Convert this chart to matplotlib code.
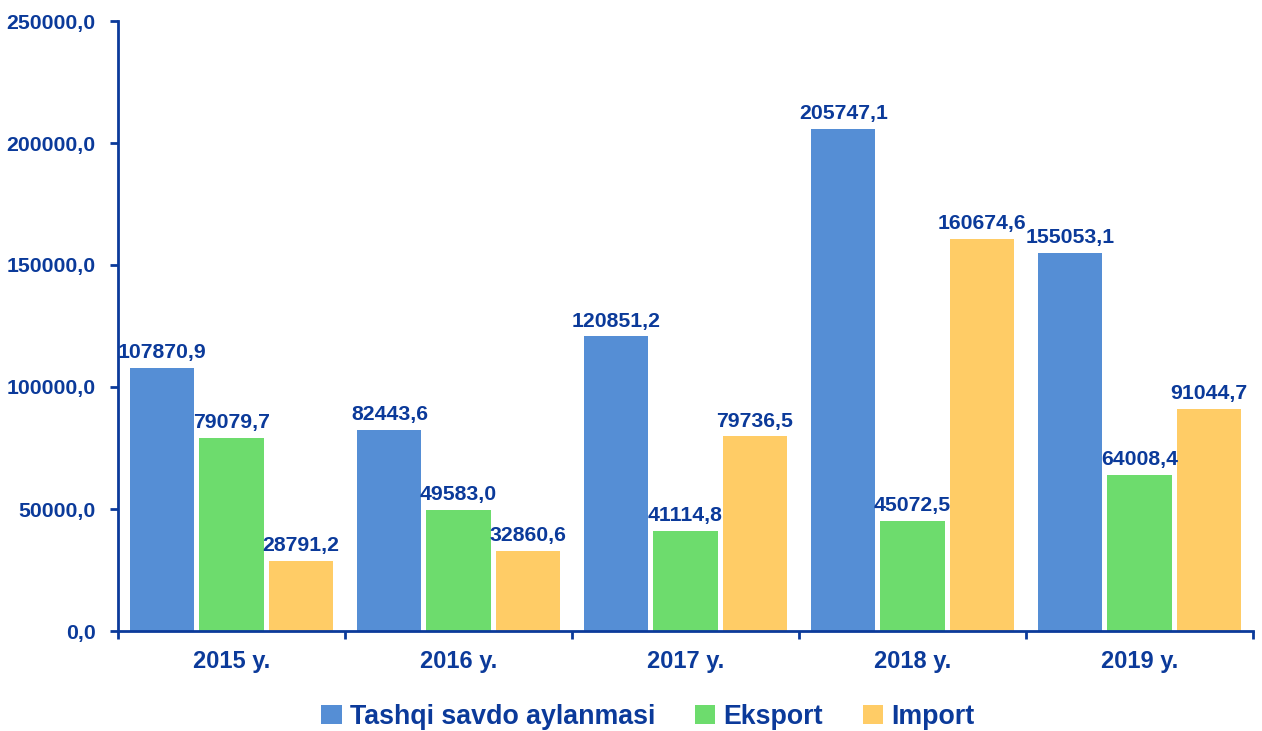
import matplotlib
matplotlib.use("Agg")
import matplotlib.pyplot as plt
import numpy as np
from matplotlib.patches import Patch

years = ["2015 y.", "2016 y.", "2017 y.", "2018 y.", "2019 y."]
series_names = ["Tashqi savdo aylanmasi", "Eksport", "Import"]
turnover = [107870.9, 82443.6, 120851.2, 205747.1, 155053.1]
export = [79079.7, 49583.0, 41114.8, 45072.5, 64008.4]
imports = [28791.2, 32860.6, 79736.5, 160674.6, 91044.7]
yticks = [0, 50000, 100000, 150000, 200000, 250000]

colors = ["#558ED5", "#6DDC6D", "#FFCC66"]
tc = "#0B3A9A"

plt.rcParams['font.family'] = ['Liberation Sans', 'DejaVu Sans']
plt.rcParams['font.weight'] = 'bold'

fig = plt.figure(figsize=(12.62, 7.31), dpi=100)
ax = fig.add_axes([118/1262, 1 - 631/731, (1253-118)/1262, (631-21)/731])

x = np.arange(len(years)) + 0.5
w = 0.282
off = 0.304
data = [turnover, export, imports]
for i, (vals, c) in enumerate(zip(data, colors)):
    xs = x + (i - 1) * off
    ax.bar(xs, vals, width=w, color=c, edgecolor='none', zorder=2)
    for xx, v in zip(xs, vals):
        ax.annotate(f"{v:.1f}".replace('.', ','), (xx, v), xytext=(0, 4),
                    textcoords='offset points', ha='center', va='bottom',
                    fontsize=15.3, fontweight='bold', color=tc, zorder=3)

ax.set_xlim(0, 5)
ax.set_ylim(0, 250000)
ax.set_yticks(yticks)
ax.set_yticklabels([f"{t:.1f}".replace('.', ',') for t in yticks],
                   fontsize=15.3, fontweight='bold', color=tc)
ax.set_xticks(np.arange(6))
ax.set_xticklabels([])
ax.set_xticks(x, minor=True)
ax.set_xticklabels(years, minor=True, fontsize=17, fontweight='bold', color=tc)
ax.tick_params(axis='x', which='minor', length=0, pad=14)
ax.tick_params(axis='x', which='major', length=6, width=2, color=tc, direction='out')
ax.tick_params(axis='y', length=6, width=2, color=tc, direction='out', pad=10)
for s in ['top', 'right']:
    ax.spines[s].set_visible(False)
for s in ['left', 'bottom']:
    ax.spines[s].set_color(tc)
    ax.spines[s].set_linewidth(2)

handles = [Patch(facecolor=c, edgecolor='none') for c in colors]
leg = fig.legend(handles, series_names, loc='center', bbox_to_anchor=(648/1262, 1 - 717/731),
                 ncol=3, frameon=False, prop={'size': 19.3, 'weight': 'bold'},
                 handlelength=0.75, handleheight=0.75, handletextpad=0.3, columnspacing=1.5)
for t in leg.get_texts():
    t.set_color(tc)

fig.savefig("out.png", dpi=100)
